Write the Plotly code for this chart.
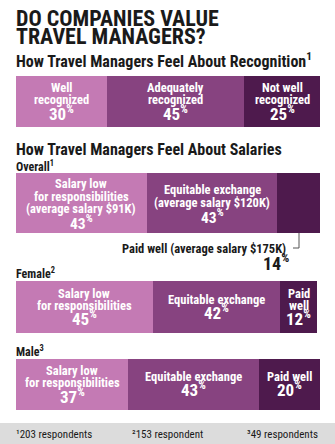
import plotly.graph_objects as go

# ---- data ----
rows = ["Recognition", "Overall", "Female", "Male"]
low_vals = [30, 43, 45, 37]
mid_vals = [45, 43, 42, 43]
high_vals = [25, 14, 12, 20]
low_labels = [["Well", "recognized"],
              ["Salary low", "for responsibilities", "(average salary $91K)"],
              ["Salary low", "for responsibilities"],
              ["Salary low", "for responsibilities"]]
mid_labels = [["Adequately", "recognized"],
              ["Equitable exchange", "(average salary $120K)"],
              ["Equitable exchange"],
              ["Equitable exchange"]]
high_labels = [["Not well", "recognized"], None, ["Paid", "well"], ["Paid well"]]
callout_label = "Paid well (average salary $175K)"
footnotes = ["¹203 respondents", "²153 respondent", "³49 respondents"]

# ---- layout constants (pixels) ----
W, H = 335, 444
X0, X1 = 16, 320
row_top = [76, 173, 281, 359]
row_bot = [127, 233, 333, 410]
centers = [(a + b) / 2 for a, b in zip(row_top, row_bot)]
widths = [b - a for a, b in zip(row_top, row_bot)]
colors = ["#c47ab4", "#874380", "#4e1a4d"]
FONT = "Liberation Sans Narrow, Roboto Condensed, DejaVu Sans Condensed, Arial Narrow, sans-serif"

fig = go.Figure()
for vals, col in zip([low_vals, mid_vals, high_vals], colors):
    fig.add_trace(go.Bar(y=centers, x=vals, width=widths, orientation="h",
                         marker=dict(color=col, line=dict(width=0)),
                         hoverinfo="skip", showlegend=False))

ann = []
def txt(x, y, t, size, color="#1a1a1a", xref="paper", xanchor="left"):
    ann.append(dict(x=x, y=y, xref=xref, yref="y", text=t, showarrow=False,
                    font=dict(family=FONT, size=size, color=color),
                    xanchor=xanchor, yanchor="middle", align="center"))

px = lambda p: p / W

txt(px(14), 18, "<b>DO COMPANIES VALUE</b>", 22)
txt(px(14), 36, "<b>TRAVEL MANAGERS?</b>", 22)
txt(px(14), 60, "<b>How Travel Managers Feel About Recognition<sup>1</sup></b>", 16)
txt(px(14), 149, "<b>How Travel Managers Feel About Salaries</b>", 16)
txt(px(14), 166, "<b>Overall<sup>1</sup></b>", 12)
txt(px(14), 273, "<b>Female<sup>2</sup></b>", 12)
txt(px(14), 351, "<b>Male<sup>3</sup></b>", 12)

for i in range(4):
    if i == 1:
        pitch, pgap, psize, off = 12.5, 14, 15.5, 0
    else:
        pitch, pgap, psize, off = 12.2, 12.8, 17, -1.5
    starts = [0, low_vals[i], low_vals[i] + mid_vals[i]]
    vals = [low_vals[i], mid_vals[i], high_vals[i]]
    labs = [low_labels[i], mid_labels[i], high_labels[i]]
    for s, v, lab in zip(starts, vals, labs):
        if lab is None:
            continue
        n = len(lab)
        c0 = centers[i] - (pitch * (n - 1) + pgap) / 2 + off
        for k, line in enumerate(lab):
            txt(s + v / 2, c0 + pitch * k, f"<b>{line}</b>", 12.5, color="white", xref="x", xanchor="center")
        txt(s + v / 2, c0 + pitch * (n - 1) + pgap, f"<b>{v}<sup>%</sup></b>", psize,
            color="white", xref="x", xanchor="center")

# overall "paid well" callout
txt(px(288), 248, f"<b>{callout_label}</b>", 12.5, xanchor="right")
txt(px(276), 262, f"<b>{high_vals[1]}<sup>%</sup></b>", 18, xanchor="center")

shapes = [
    dict(type="line", xref="paper", yref="y", x0=px(299), x1=px(299), y0=233, y1=248,
         line=dict(color="#555", width=1)),
    dict(type="line", xref="paper", yref="y", x0=px(293), x1=px(299), y0=248, y1=248,
         line=dict(color="#555", width=1)),
    dict(type="rect", xref="paper", yref="y", x0=0, x1=1, y0=423, y1=444,
         fillcolor="#dcdcdc", line=dict(width=0), layer="below"),
]

txt(px(14), 434, footnotes[0], 11, color="#1a1a1a")
txt(px(167), 434, footnotes[1], 11, color="#1a1a1a", xanchor="center")
txt(px(320), 434, footnotes[2], 11, color="#1a1a1a", xanchor="right")

fig.update_layout(
    width=W, height=H, margin=dict(l=0, r=0, t=0, b=0),
    paper_bgcolor="white", plot_bgcolor="white",
    barmode="stack", bargap=0,
    xaxis=dict(range=[0, 100], domain=[X0 / W, X1 / W], visible=False, fixedrange=True),
    yaxis=dict(range=[H, 0], domain=[0, 1], visible=False, fixedrange=True),
    annotations=ann, shapes=shapes, font=dict(family=FONT),
)
fig.write_html("out.html", config={"displayModeBar": False})
